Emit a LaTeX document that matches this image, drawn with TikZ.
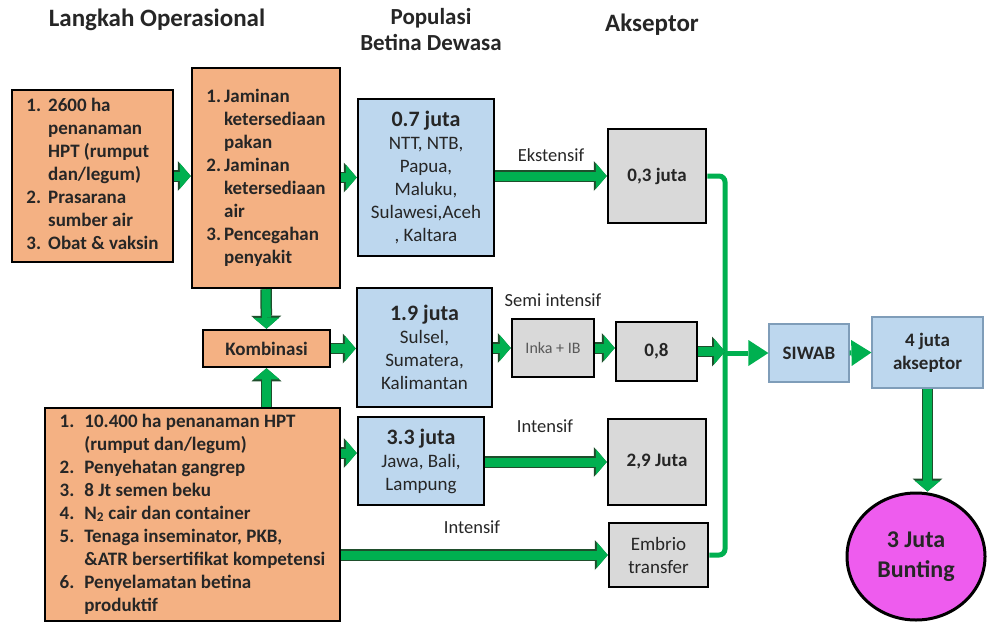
\documentclass[tikz,border=0pt]{standalone}
\usepackage{fontspec}
\setmainfont{Carlito}
\usetikzlibrary{arrows.meta, shapes.geometric}

\definecolor{orangefill}{HTML}{F4B183}
\definecolor{bluefill}{HTML}{BDD7EE}
\definecolor{grayfill}{HTML}{D9D9D9}
\definecolor{flowgreen}{HTML}{00B050}
\definecolor{flowedge}{HTML}{1F4E2C}
\definecolor{pinkfill}{HTML}{EE5CEE}
\definecolor{softedge}{HTML}{7F9DB9}
\definecolor{inktext}{HTML}{262626}

\newcommand{\popnum}[1]{{\fontsize{22}{24}\selectfont\bfseries #1}}

\tikzset{
  box/.style={draw=black, line width=2.5pt, inner sep=0pt, text=inktext,
    font=\fontsize{19}{23}\selectfont\bfseries, align=center},
  opbox/.style={box, fill=orangefill},
  popbox/.style={box, fill=bluefill, font=\fontsize{19}{23}\selectfont},
  akbox/.style={box, fill=grayfill},
  softbox/.style={box, fill=bluefill, draw=softedge, line width=1.2pt},
  title/.style={font=\fontsize{25}{26}\selectfont\bfseries, text=inktext, align=center},
  lbl/.style={font=\fontsize{18.5}{22}\selectfont, text=inktext},
  fat/.style={draw=flowgreen, line width=9pt,
    -{Triangle[length=11pt,width=26pt,line width=0pt]},
    preaction={draw=flowedge, line width=11.5pt,
      -{Triangle[length=13pt,width=30pt,line width=0pt]}}},
  feed/.style={draw=flowgreen, line width=5pt},
  feedarrow/.style={feed, -{Triangle[length=20pt,width=26pt,line width=0pt]}},
}

\begin{document}
\begin{tikzpicture}[x=1pt, y=-1pt]
  \useasboundingbox (0,0) rectangle (987,624);

  % column headings
  \node[title] (hop) at (157,20) {Langkah Operasional};
  \node[title, font=\fontsize{23}{26}\selectfont\bfseries] (hpop) at (431,30) {Populasi\\Betina Dewasa};
  \node[title] (hak) at (652,25) {Akseptor};

  % operational steps
  \node[opbox, minimum width=161pt, minimum height=172pt] (prep) at (92.5,176)
    {\begin{tabular}{@{}l@{\hspace{7pt}}l@{}}
      1. & 2600 ha\\ & penanaman\\ & HPT (rumput\\ & dan/legum)\\
      2. & Prasarana\\ & sumber air\\
      3. & Obat \& vaksin
    \end{tabular}};
  \node[opbox, minimum width=148pt, minimum height=220pt] (jamin) at (266,178)
    {\begin{tabular}{@{}l@{\hspace{3pt}}l@{}}
      1. & Jaminan\\ & ketersediaan\\ & pakan\\
      2. & Jaminan\\ & ketersediaan\\ & air\\
      3. & Pencegahan\\ & penyakit
    \end{tabular}};
  \node[opbox, minimum width=127pt, minimum height=37pt] (komb) at (266.5,348.5) {Kombinasi};
  \node[opbox, minimum width=295pt, minimum height=213pt] (ib) at (192.5,514.5)
    {\begin{tabular}{@{}l@{\hspace{10pt}}l@{}}
      1. & 10.400 ha penanaman HPT\\ & (rumput dan/legum)\\
      2. & Penyehatan gangrep\\
      3. & 8 Jt semen beku\\
      4. & N\textsubscript{2} cair dan container\\
      5. & Tenaga inseminator, PKB,\\ & \&ATR bersertifikat kompetensi\\
      6. & Penyelamatan betina\\ & produktif
    \end{tabular}};

  % female population
  \node[popbox, minimum width=136pt, minimum height=157pt] (popa) at (426,177.5)
    {\popnum{0.7 juta}\\NTT, NTB,\\Papua,\\Maluku,\\Sulawesi,Aceh\\, Kaltara};
  \node[popbox, minimum width=135pt, minimum height=119pt] (popb) at (424.5,347.5)
    {\popnum{1.9 juta}\\Sulsel,\\Sumatera,\\Kalimantan};
  \node[popbox, minimum width=126pt, minimum height=88pt] (popc) at (421,461)
    {\popnum{3.3 juta}\\Jawa, Bali,\\Lampung};

  % acceptors
  \node[akbox, minimum width=98pt, minimum height=94pt] (aka) at (657,176) {0,3 juta};
  \node[akbox, minimum width=82pt, minimum height=58pt, font=\fontsize{16}{19}\selectfont,
    text=black!65] (inka) at (553,348) {Inka + IB};
  \node[akbox, minimum width=81pt, minimum height=59pt] (akb) at (656.5,351.5) {0,8};
  \node[akbox, minimum width=98pt, minimum height=86pt] (akc) at (657,462) {2,9 Juta};
  \node[akbox, minimum width=99pt, minimum height=64pt, font=\fontsize{19}{23}\selectfont]
    (embrio) at (658.5,555) {Embrio\\transfer};
  \node[softbox, minimum width=80pt, minimum height=58pt] (siwab) at (809,353) {SIWAB};
  \node[softbox, minimum width=111pt, minimum height=71pt] (total) at (927.5,352.5) {4 juta\\akseptor};
  \node[ellipse, draw=black, line width=3pt, fill=pinkfill, inner sep=0pt,
    minimum width=138pt, minimum height=127pt, text=inktext, align=center,
    font=\fontsize{24}{30}\selectfont\bfseries] (bunting) at (916,556.5) {3 Juta\\Bunting};

  % path labels
  \node[lbl] (lext) at (551,155) {Ekstensif};
  \node[lbl] (lsemi) at (553,300) {Semi intensif};
  \node[lbl] (lint) at (545,426) {Intensif};
  \node[lbl] (lemb) at (472,527) {Intensif};

  % block arrows
  \draw[fat] (prep.east) -- (prep.east -| jamin.west);
  \draw[fat] (popa.west -| jamin.east) -- (popa.west);
  \draw[fat] (jamin.south) -- (komb.north);
  \draw[fat] (ib.north -| komb) -- (komb.south);
  \draw[fat] (komb.east) -- (komb.east -| popb.west);
  \draw[fat] ([yshift=8pt]popc.west -| ib.east) -- ([yshift=8pt]popc.west);
  \draw[fat] (aka.west -| popa.east) -- (aka.west);
  \draw[fat] (inka.west -| popb.east) -- (inka.west);
  \draw[fat] (inka.east) -- (inka.east -| akb.west);
  \draw[fat] (akc.west -| popc.east) -- (akc.west);
  \draw[fat] (embrio.west -| ib.east) -- (embrio.west);

  % collecting line
  \coordinate (bus) at (725,353);
  \draw[feed, rounded corners=6pt] (aka.east) -| (bus) |- (embrio.east);
  \draw[fat] (akb.east) -- (akb.east -| bus);
  \draw[feedarrow] (bus) -- (siwab.west);
  \draw[feedarrow] (siwab.east) -- (total.west);
  \draw[fat] (total.south) -- (total.south |- bunting.north);
\end{tikzpicture}
\end{document}
